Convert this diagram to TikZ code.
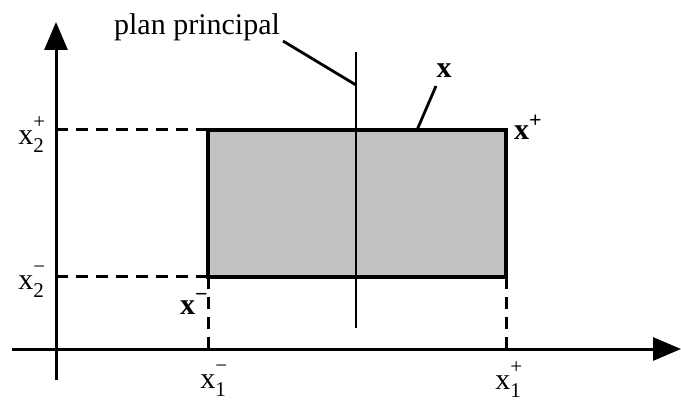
\documentclass[tikz,border=0pt]{standalone}
\usepackage{fontspec}
\setmainfont{Liberation Serif}
\usetikzlibrary{arrows.meta}
\newcommand{\xlab}[3]{#1\rlap{\raisebox{0.52em}{\fontsize{21}{21}\selectfont #3}}\raisebox{-0.28em}{\fontsize{21}{21}\selectfont #2}}
\begin{document}
\begin{tikzpicture}[x=1pt,y=-1pt,
  axisline/.style={line width=3pt,-{Triangle[length=28pt,width=23pt]}},
  dashline/.style={line width=3pt,dash pattern=on 12pt off 8pt},
  lab/.style={font=\fontsize{30}{36}\selectfont,inner sep=0pt},
  leadline/.style={line width=2.8pt},
  boxline/.style={line width=3.6pt}]
\useasboundingbox (0,0) rectangle (681,401);
% axes
\coordinate (ybot) at (56,380);
\coordinate (ytop) at (56,22);
\coordinate (xleft) at (12,349);
\coordinate (xright) at (681,349);
\coordinate (y2p) at (56,130);
\coordinate (y2m) at (56,277);
\coordinate (x1m) at (208,349);
\coordinate (x1p) at (506,349);
% rectangle corners
\coordinate (A) at (208,277);
\coordinate (B) at (506,130);
\coordinate (TL) at (208,130);
\coordinate (BR) at (506,277);
\fill[black!24] (A) rectangle (B);
% dashed guides
\draw[dashline] (y2p) -- (TL);
\draw[dashline] (y2m) -- (A);
\draw[dashline] (x1m) -- (A);
\draw[dashline] (x1p) -- (BR);
\draw[boxline] (A) rectangle (B);
% axes
\draw[axisline] (ybot) -- (ytop);
\draw[axisline] (xleft) -- (xright);
% principal plane
\coordinate (ptop) at (356,52);
\coordinate (pbot) at (356,328);
\draw[line width=2.4pt] (ptop) -- (pbot);
% labels
\node[lab] (pp) at (197,27) {plan principal};
\coordinate (pplead) at (283,41);
\coordinate (ppend) at (356,85);
\draw[leadline] (pplead) -- (ppend);
\node[lab,font=\fontsize{30}{36}\selectfont\bfseries] (xl) at (444,71) {x};
\coordinate (xlead) at (436,86);
\coordinate (xend) at (417,130);
\draw[leadline] (xlead) -- (xend);
\node[lab,font=\fontsize{30}{36}\selectfont\bfseries] (xp) at (528,127) {x\raisebox{0.4em}{\fontsize{22}{22}\selectfont +}};
\node[lab,font=\fontsize{30}{36}\selectfont\bfseries] (xm) at (194,304) {x\raisebox{0.45em}{\fontsize{22}{22}\selectfont −}};
\node[lab] (l2p) at (31,135) {\xlab{x}{2}{+}};
\node[lab] (l2m) at (31,282) {\xlab{x}{2}{−}};
\node[lab] (l1m) at (213,381) {\xlab{x}{1}{−}};
\node[lab] (l1p) at (508,380) {\xlab{x}{1}{+}};
\end{tikzpicture}
\end{document}
